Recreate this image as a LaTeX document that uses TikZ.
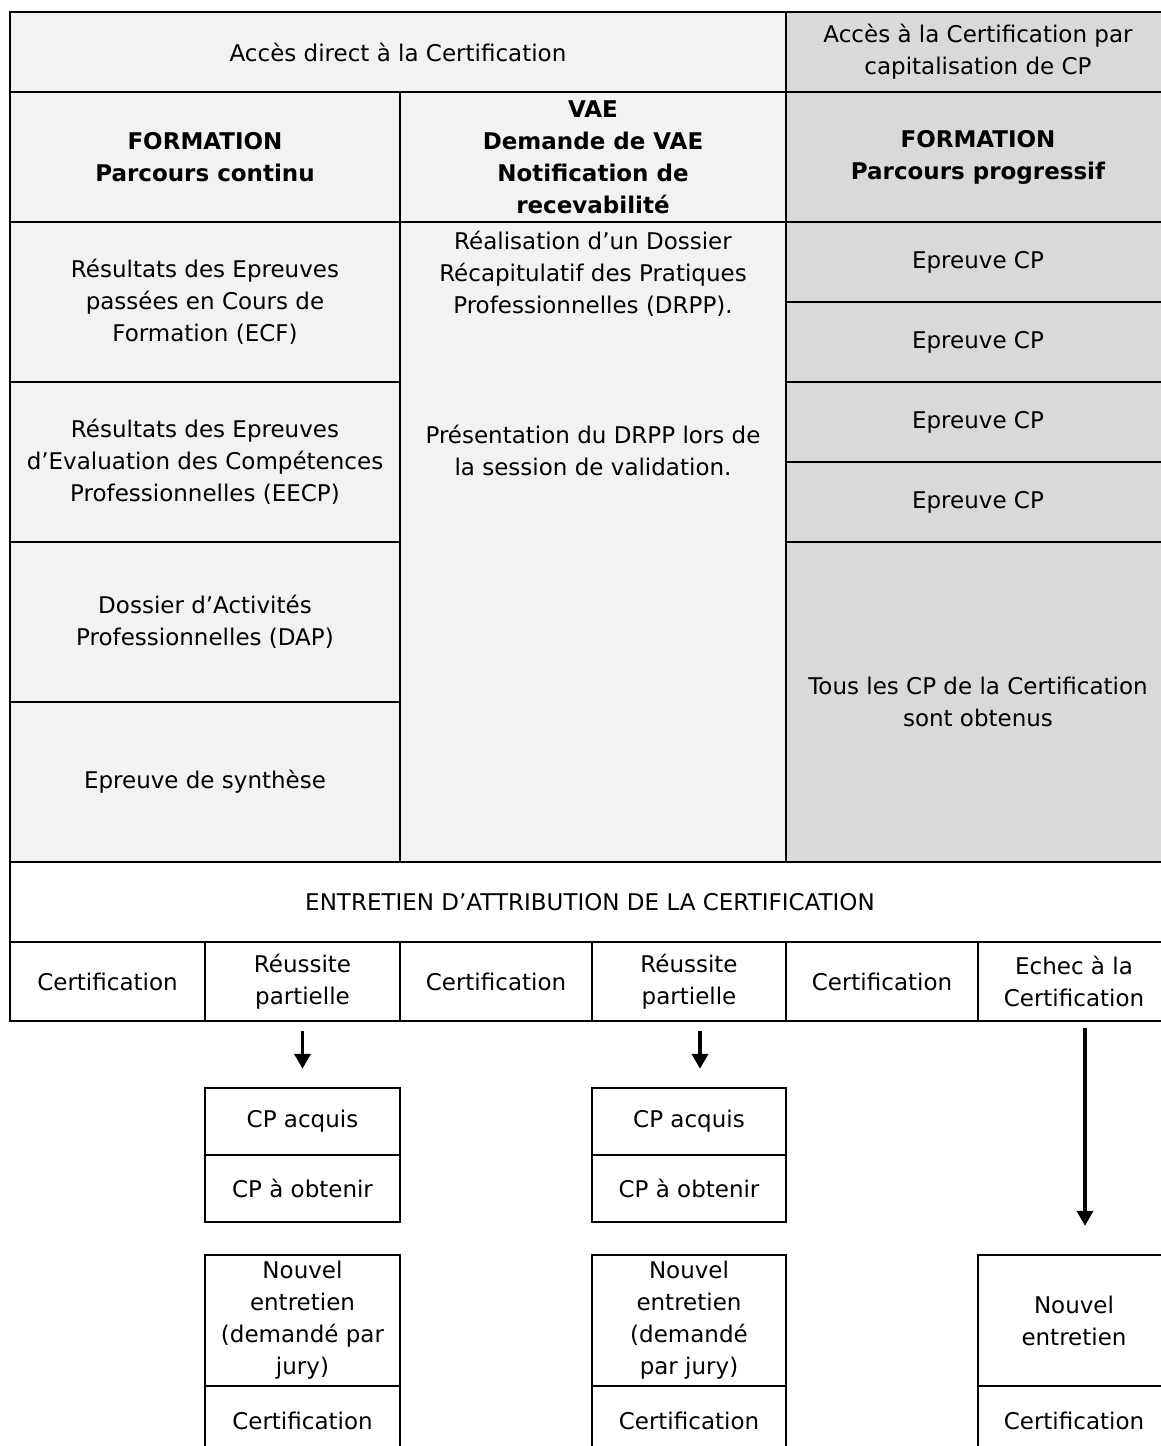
\documentclass[tikz,border=0pt]{standalone}
\usepackage{fontspec}
\setmainfont{DejaVu Sans}
\usepackage{xcolor}
\usepackage{tikz}
\usetikzlibrary{arrows.meta, positioning}
\definecolor{paleg}{HTML}{F2F2F2}
\definecolor{darkg}{HTML}{D9D9D9}

\begin{document}
\begin{tikzpicture}[x=1pt, y=-1pt,
  cell/.style={draw, line width=2.4pt, inner sep=0pt, align=center,
    font=\fontsize{23}{32}\selectfont},
  span/.style n args={4}{at={({(#1+#3)/2},{(#2+#4)/2})},
    minimum width={(#3-#1)*1pt}, minimum height={(#4-#2)*1pt}},
  head/.style={font=\fontsize{23}{32}\selectfont\bfseries},
  txt/.style={inner sep=0pt, align=center, font=\fontsize{23}{32}\selectfont},
  arr/.style={line width=3.5pt, -{Triangle[length=15pt, width=16pt]}}]
  \useasboundingbox (0,0) rectangle (1161,1446);
  % head of the table
  \node[cell, fill=paleg, span={10}{12}{786}{92}] (direct) {Accès direct à la Certification};
  \node[cell, fill=darkg, span={786}{12}{1170}{92}] (capit) {Accès à la Certification par\\capitalisation de CP};
  \node[cell, head, fill=paleg, span={10}{92}{400}{222}] (formc) {FORMATION\\Parcours continu};
  \node[cell, head, fill=paleg, span={400}{92}{786}{222}] (vae) {VAE\\Demande de VAE\\Notification de\\recevabilité};
  \node[cell, head, fill=darkg, span={786}{92}{1170}{222}] (formp) {FORMATION\\Parcours progressif};
  % parcours continu
  \node[cell, fill=paleg, span={10}{222}{400}{382}] (ecf) {Résultats des Epreuves\\passées en Cours de\\Formation (ECF)};
  \node[cell, fill=paleg, span={10}{382}{400}{542}] (eecp) {Résultats des Epreuves\\d’Evaluation des Compétences\\Professionnelles (EECP)};
  \node[cell, fill=paleg, span={10}{542}{400}{702}] (dap) {Dossier d’Activités\\Professionnelles (DAP)};
  \node[cell, fill=paleg, span={10}{702}{400}{862}] (synth) {Epreuve de synthèse};
  % VAE
  \node[cell, fill=paleg, span={400}{222}{786}{862}] (drpp) {};
  \node[txt, below=10pt of drpp.north] (drpptxt) {Réalisation d’un Dossier\\Récapitulatif des Pratiques\\Professionnelles (DRPP).\\[98pt]Présentation du DRPP lors de\\la session de validation.};
  % parcours progressif
  \foreach \i in {1,2,3,4} {
    \pgfmathtruncatemacro{\ya}{222+80*(\i-1)}\pgfmathtruncatemacro{\yb}{222+80*\i}
    \node[cell, fill=darkg, span={786}{\ya}{1170}{\yb}] (cp\i) {Epreuve CP};}
  \node[cell, fill=darkg, span={786}{542}{1170}{862}] (tous) {Tous les CP de la Certification\\sont obtenus};
  % entretien
  \node[cell, fill=white, span={10}{862}{1170}{942}] (entr) {ENTRETIEN D’ATTRIBUTION DE LA CERTIFICATION};
  \foreach \i/\xa/\xb/\t in {1/10/205/Certification, 2/205/400/Réussite\\partielle,
      3/400/592/Certification, 4/592/786/Réussite\\partielle,
      5/786/978/Certification, 6/978/1170/Echec à la\\Certification}
    \node[cell, fill=white, span={\xa}{942}{\xb}{1021}] (res\i) {\t};
  % suites
  \foreach \i/\xa/\xb in {1/205/400, 2/592/786} {
    \node[cell, span={\xa}{1088}{\xb}{1155}] (acq\i) {CP acquis};
    \node[cell, span={\xa}{1155}{\xb}{1222}] (obt\i) {CP à obtenir};}
  \node[cell, span={205}{1255}{400}{1386}] (new1) {Nouvel\\entretien\\(demandé par\\jury)};
  \node[cell, span={592}{1255}{786}{1386}] (new2) {Nouvel\\entretien\\(demandé\\par jury)};
  \node[cell, span={978}{1255}{1170}{1386}] (new3) {Nouvel\\entretien};
  \foreach \i/\xa/\xb in {1/205/400, 2/592/786, 3/978/1170}
    \node[cell, span={\xa}{1386}{\xb}{1455}] (cert\i) {Certification};
  \draw[arr, shorten <=9pt, shorten >=18pt] (res2.south) -- (acq1.north);
  \draw[arr, shorten <=9pt, shorten >=18pt] ([xshift=11pt]res4.south) -- ([xshift=11pt]acq2.north);
  \draw[arr, shorten <=6pt, shorten >=28pt] ([xshift=11pt]res6.south) -- ([xshift=11pt]new3.north);
\end{tikzpicture}
\end{document}
